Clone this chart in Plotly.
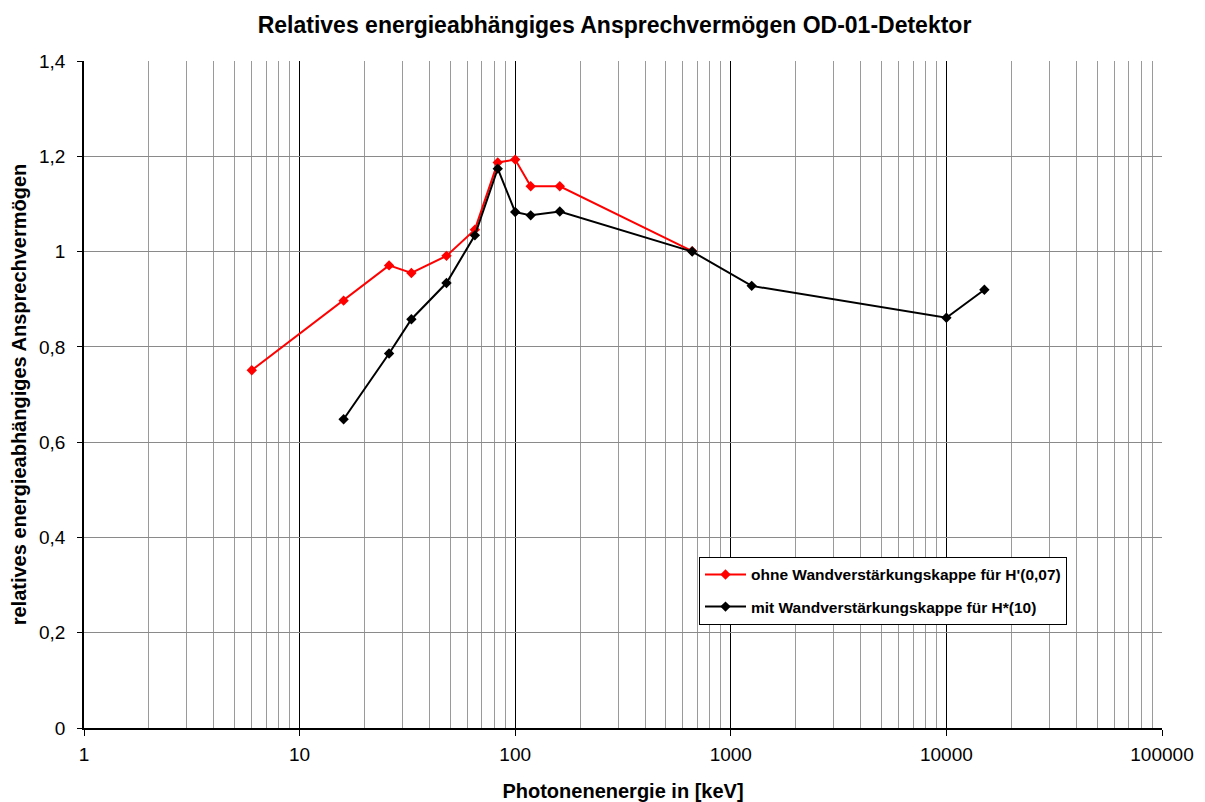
import plotly.graph_objects as go

energy_red = [6, 16, 26, 33, 48, 65, 83, 100, 118, 161, 662]
resp_red = [0.751, 0.897, 0.971, 0.955, 0.991, 1.046, 1.187, 1.193, 1.137, 1.137, 1.001]

energy_black = [16, 26, 33, 48, 65, 83, 100, 118, 161, 662, 1250, 10000, 15000]
resp_black = [0.648, 0.786, 0.858, 0.934, 1.034, 1.174, 1.083, 1.076, 1.084, 1.0, 0.928, 0.861, 0.92]

name_red = "ohne Wandverstärkungskappe für H'(0,07)"
name_black = "mit Wandverstärkungskappe für H*(10)"

x_tickvals = [1, 10, 100, 1000, 10000, 100000]
x_ticktext = ["1", "10", "100", "1000", "10000", "100000"]
y_tickvals = [0, 0.2, 0.4, 0.6, 0.8, 1.0, 1.2, 1.4]
y_ticktext = ["0", "0,2", "0,4", "0,6", "0,8", "1", "1,2", "1,4"]

FONT = "Liberation Sans, Arial, sans-serif"

fig = go.Figure()
fig.add_trace(go.Scatter(
    x=energy_red, y=resp_red, name=name_red, mode="lines+markers",
    legendgroup="a",
    line=dict(color="#FF0000", width=2),
    marker=dict(symbol="diamond", size=8, color="#FF0000"),
))
fig.add_trace(go.Scatter(
    x=energy_black, y=resp_black, name=name_black, mode="lines+markers",
    legendgroup="b",
    line=dict(color="#000000", width=2),
    marker=dict(symbol="diamond", size=8, color="#000000"),
))

fig.update_layout(
    width=1197, height=794,
    margin=dict(l=76, r=43, t=53, b=74),
    paper_bgcolor="white", plot_bgcolor="white",
    font=dict(family=FONT, size=19, color="black"),
    title=dict(text="<b>Relatives energieabhängiges Ansprechvermögen OD-01-Detektor</b>",
               x=0.5067, xanchor="center", y=0.9786, yanchor="middle",
               font=dict(size=23, family=FONT)),
    showlegend=True,
    legend=dict(x=(699 - 84) / 1078, y=(728.3 - 557) / 667.6, xanchor="left", yanchor="top",
                bgcolor="white", bordercolor="black", borderwidth=1,
                font=dict(size=15.5, family=FONT, weight="bold"),
                traceorder="grouped", tracegroupgap=9, itemwidth=41),
)

fig.update_xaxes(
    type="log", range=[0, 5], automargin=False,
    tickvals=x_tickvals, ticktext=x_ticktext,
    showgrid=True, gridcolor="black", gridwidth=1,
    minor=dict(dtick="D1", showgrid=True, gridcolor="#9a9a9a", gridwidth=1, ticks=""),
    showline=True, linecolor="black", linewidth=1.5,
    ticks="outside", ticklen=6, tickcolor="black",
    ticklabelstandoff=2,
    zeroline=False,
    title=dict(text="<b>Photonenenergie in [keV]</b>", font=dict(size=20, family=FONT), standoff=22),
    tickfont=dict(size=19),
)
fig.update_yaxes(
    range=[0, 1.4], automargin=False,
    tickvals=y_tickvals, ticktext=y_ticktext,
    showgrid=True, gridcolor="#8a8a8a", gridwidth=1,
    showline=True, linecolor="black", linewidth=1.5,
    ticks="outside", ticklen=5, tickcolor="black",
    ticklabelstandoff=8,
    zeroline=False,
    title=dict(text="<b>relatives energieabhängiges Ansprechvermögen</b>", font=dict(size=20, family=FONT), standoff=16),
    tickfont=dict(size=19),
)

fig.write_html("out.html")
